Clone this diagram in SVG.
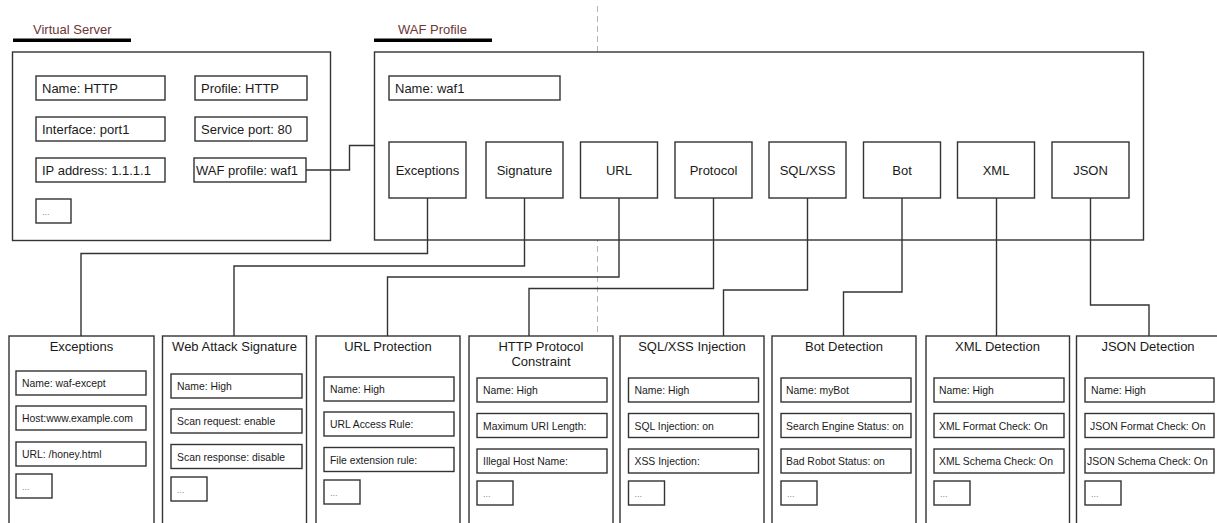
<svg xmlns="http://www.w3.org/2000/svg" width="1217" height="523" viewBox="0 0 1217 523">
<style>
.box{fill:#fff;stroke:#333;stroke-width:1.4}
.t13{font-family:"Liberation Sans",Arial,sans-serif;font-size:13px;fill:#1a1a1a}
.t10{font-family:"Liberation Sans",Arial,sans-serif;font-size:10.4px;fill:#1a1a1a}
.dots{font-family:"Liberation Sans",Arial,sans-serif;font-size:9px;fill:#888}
.hdr{font-family:"Liberation Sans",Arial,sans-serif;font-size:13px;fill:#6e3535}
.c{text-anchor:middle}
.conn{fill:none;stroke:#333;stroke-width:1.4}
</style>
<rect width="1217" height="523" fill="#fff"/>
<line x1="597.5" y1="6" x2="597.5" y2="523" stroke="#b5b5b5" stroke-width="1" stroke-dasharray="6 4"/>

<g id="virtual-server">
<text class="hdr" x="33" y="34">Virtual Server</text>
<rect x="13" y="38.5" width="118" height="3.5" fill="#000"/>
<rect class="box" x="12.5" y="52" width="318" height="188.5"/>
<rect class="box" x="36" y="76" width="129" height="24"/><text class="t13" x="42" y="92.5">Name: HTTP</text>
<rect class="box" x="195" y="76" width="112" height="24"/><text class="t13" x="201" y="92.5">Profile: HTTP</text>
<rect class="box" x="36" y="117" width="129" height="24"/><text class="t13" x="42" y="133.5">Interface: port1</text>
<rect class="box" x="195" y="117" width="112" height="24"/><text class="t13" x="201" y="133.5">Service port: 80</text>
<rect class="box" x="36" y="158" width="129" height="24"/><text class="t13" x="42" y="174.5">IP address: 1.1.1.1</text>
<rect class="box" x="194" y="158" width="112" height="24"/><text class="t13" x="196" y="174.5">WAF profile: waf1</text>
<rect class="box" x="36" y="199" width="35" height="24"/><text class="dots" x="42" y="215">...</text>
</g>

<g id="waf-profile">
<text class="hdr" x="398" y="34">WAF Profile</text>
<rect x="374" y="38.5" width="118" height="3.5" fill="#000"/>
<rect class="box" x="374.5" y="52" width="769" height="188"/>
<rect class="box" x="389" y="76" width="171" height="24"/><text class="t13" x="395" y="92.5">Name: waf1</text>
</g>
<g id="sub-exceptions"><rect class="box" x="389" y="142" width="77" height="56"/><text class="t13 c" x="427.5" y="174.5">Exceptions</text></g>
<g id="sub-signature"><rect class="box" x="486" y="142" width="77" height="56"/><text class="t13 c" x="524.5" y="174.5">Signature</text></g>
<g id="sub-url"><rect class="box" x="580.5" y="142" width="77" height="56"/><text class="t13 c" x="619" y="174.5">URL</text></g>
<g id="sub-protocol"><rect class="box" x="675" y="142" width="77" height="56"/><text class="t13 c" x="713.5" y="174.5">Protocol</text></g>
<g id="sub-sqlxss"><rect class="box" x="769" y="142" width="77" height="56"/><text class="t13 c" x="807.5" y="174.5">SQL/XSS</text></g>
<g id="sub-bot"><rect class="box" x="863.5" y="142" width="77" height="56"/><text class="t13 c" x="902" y="174.5">Bot</text></g>
<g id="sub-xml"><rect class="box" x="957.5" y="142" width="77" height="56"/><text class="t13 c" x="996" y="174.5">XML</text></g>
<g id="sub-json"><rect class="box" x="1052" y="142" width="77" height="56"/><text class="t13 c" x="1090.5" y="174.5">JSON</text></g>

<g id="connectors">
<path class="conn" d="M306 170 H349.5 V145.5 H374.5"/>
<path class="conn" d="M427.5 198 V253.5 H81 V336"/>
<path class="conn" d="M524.5 198 V266 H234 V336"/>
<path class="conn" d="M619 198 V277 H387.5 V336"/>
<path class="conn" d="M713.5 198 V288.5 H529 V336"/>
<path class="conn" d="M807.5 198 V290 H723.5 V336"/>
<path class="conn" d="M902 198 V292 H843.5 V336"/>
<path class="conn" d="M996.5 198 V336"/>
<path class="conn" d="M1090.5 198 V305 H1149 V336"/>
</g>

<g id="exceptions">
<rect class="box" x="9" y="336" width="145" height="200"/>
<text class="t13 c" x="81.5" y="351">Exceptions</text>
<rect class="box" x="16" y="371" width="130" height="24"/><text class="t10" x="22" y="387">Name: waf-except</text>
<rect class="box" x="16" y="406" width="130" height="24"/><text class="t10" x="22" y="422">Host:www.example.com</text>
<rect class="box" x="16" y="442" width="130" height="24"/><text class="t10" x="22" y="458">URL: /honey.html</text>
<rect class="box" x="16" y="474" width="36" height="24"/><text class="dots" x="22" y="490">...</text>
</g>
<g id="web-attack-signature">
<rect class="box" x="162.5" y="336" width="144" height="200"/>
<text class="t13 c" x="234.5" y="351">Web Attack Signature</text>
<rect class="box" x="171" y="374" width="131" height="24"/><text class="t10" x="177" y="390">Name: High</text>
<rect class="box" x="171" y="409" width="131" height="24"/><text class="t10" x="177" y="425">Scan request: enable</text>
<rect class="box" x="171" y="444.5" width="131" height="24"/><text class="t10" x="177" y="460.5">Scan response: disable</text>
<rect class="box" x="171" y="477" width="36" height="24"/><text class="dots" x="177" y="493">...</text>
</g>
<g id="url-protection">
<rect class="box" x="316" y="336" width="144" height="200"/>
<text class="t13 c" x="388" y="351">URL Protection</text>
<rect class="box" x="324" y="377" width="130" height="24"/><text class="t10" x="330" y="393">Name: High</text>
<rect class="box" x="324" y="412" width="130" height="24"/><text class="t10" x="330" y="428">URL Access Rule:</text>
<rect class="box" x="324" y="447.5" width="130" height="24"/><text class="t10" x="330" y="463.5">File extension rule:</text>
<rect class="box" x="324" y="480" width="36" height="24"/><text class="dots" x="330" y="496">...</text>
</g>
<g id="http-protocol-constraint">
<rect class="box" x="469" y="336" width="144" height="200"/>
<text class="t13 c" x="541" y="351">HTTP Protocol</text>
<text class="t13 c" x="541" y="366">Constraint</text>
<rect class="box" x="477" y="378" width="130" height="24"/><text class="t10" x="483" y="394">Name: High</text>
<rect class="box" x="477" y="413.5" width="130" height="24"/><text class="t10" x="483" y="429.5">Maximum URI Length:</text>
<rect class="box" x="477" y="449" width="130" height="24"/><text class="t10" x="483" y="465">Illegal Host Name:</text>
<rect class="box" x="477" y="481" width="36" height="24"/><text class="dots" x="483" y="497">...</text>
</g>
<g id="sqlxss-injection">
<rect class="box" x="620" y="336" width="144" height="200"/>
<text class="t13 c" x="692" y="351">SQL/XSS Injection</text>
<rect class="box" x="628.5" y="378" width="130" height="24"/><text class="t10" x="634.5" y="394">Name: High</text>
<rect class="box" x="628.5" y="413.5" width="130" height="24"/><text class="t10" x="634.5" y="429.5">SQL Injection: on</text>
<rect class="box" x="628.5" y="449" width="130" height="24"/><text class="t10" x="634.5" y="465">XSS Injection:</text>
<rect class="box" x="628.5" y="481" width="36" height="24"/><text class="dots" x="634.5" y="497">...</text>
</g>
<g id="bot-detection">
<rect class="box" x="772" y="336" width="144" height="200"/>
<text class="t13 c" x="844" y="351">Bot Detection</text>
<rect class="box" x="781" y="378" width="130" height="24"/><text class="t10" x="786" y="394">Name: myBot</text>
<rect class="box" x="781" y="413.5" width="130" height="24"/><text class="t10" x="786" y="429.5">Search Engine Status: on</text>
<rect class="box" x="781" y="449" width="130" height="24"/><text class="t10" x="786" y="465">Bad Robot Status: on</text>
<rect class="box" x="781" y="481" width="36" height="24"/><text class="dots" x="787" y="497">...</text>
</g>
<g id="xml-detection">
<rect class="box" x="926" y="336" width="143.5" height="200"/>
<text class="t13 c" x="997.5" y="351">XML Detection</text>
<rect class="box" x="934" y="378" width="130" height="24"/><text class="t10" x="939" y="394">Name: High</text>
<rect class="box" x="934" y="413.5" width="130" height="24"/><text class="t10" x="939" y="429.5">XML Format Check: On</text>
<rect class="box" x="934" y="449" width="130" height="24"/><text class="t10" x="939" y="465">XML Schema Check: On</text>
<rect class="box" x="934" y="481" width="36" height="24"/><text class="dots" x="940" y="497">...</text>
</g>
<g id="json-detection">
<rect class="box" x="1076.5" y="336" width="146" height="200"/>
<text class="t13 c" x="1148" y="351">JSON Detection</text>
<rect class="box" x="1085" y="378" width="129" height="24"/><text class="t10" x="1091" y="394">Name: High</text>
<rect class="box" x="1085" y="413.5" width="129" height="24"/><text class="t10" x="1090" y="429.5">JSON Format Check: On</text>
<rect class="box" x="1085" y="449" width="129" height="24"/><text class="t10" x="1087" y="465">JSON Schema Check: On</text>
<rect class="box" x="1085" y="481" width="36" height="24"/><text class="dots" x="1091" y="497">...</text>
</g>
</svg>
